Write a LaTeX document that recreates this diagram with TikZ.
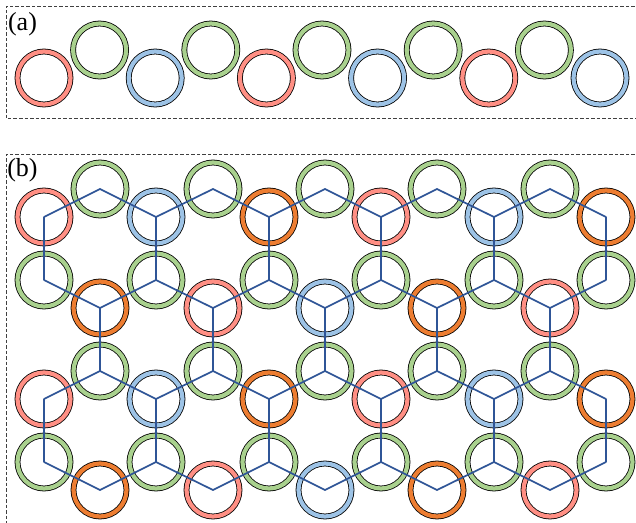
\documentclass[tikz,border=0pt]{standalone}
\usepackage{fontspec}
\setmainfont{Liberation Serif}
\definecolor{cr}{HTML}{FF8F84}
\definecolor{cg}{HTML}{A9D18E}
\definecolor{cb}{HTML}{9DC3E6}
\definecolor{co}{HTML}{ED7D31}
\definecolor{cl}{HTML}{2F5597}
\colorlet{cA0}{cr}\colorlet{cA1}{cg}\colorlet{cA2}{cb}\colorlet{cA3}{cg}\colorlet{cA4}{co}\colorlet{cA5}{cg}
\colorlet{cB0}{cg}\colorlet{cB1}{co}\colorlet{cB2}{cg}\colorlet{cB3}{cr}\colorlet{cB4}{cg}\colorlet{cB5}{cb}
\colorlet{cC0}{cr}\colorlet{cC1}{cg}\colorlet{cC2}{cb}\colorlet{cC3}{cg}
\begin{document}
\begin{tikzpicture}[x=1pt,y=-1pt,
  ring/.style={circle,draw=black,line width=0.8pt,double=#1,double distance=4.2pt,minimum size=53pt,inner sep=0pt,outer sep=0pt},
  frame/.style={draw=black!75,line width=0.8pt,dash pattern=on 3.5pt off 2pt},
  bond/.style={draw=cl,line width=1.7pt},
  panellabel/.style={inner sep=0pt,font=\fontsize{26}{26}\selectfont}]
\useasboundingbox (0,0) rectangle (636,522);
\fill[white] (0,0) rectangle (636,522);
% frames
\draw[frame] (640,6) -- (6,6) -- (6,118) -- (640,118);
\draw[frame] (640,154) -- (6,154) -- (6,526);
\node[panellabel] (la) at (22.5,24) {(a)};
\node[panellabel] (lb) at (22.5,170.5) {(b)};
% panel (a)
\foreach \k in {0,...,10}{
  \pgfmathtruncatemacro\m{mod(\k,4)}
  \pgfmathsetmacro\xx{44+55.6*\k}
  \pgfmathsetmacro\yy{ifthenelse(mod(\k,2)==0,78,50)}
  \node[ring=cC\m] (a\k) at (\xx,\yy) {};
}
% panel (b) vertices
\foreach \r in {0,...,3}{
  \foreach \k in {0,...,10}{
    \pgfmathtruncatemacro\m{mod(\k,6)}
    \pgfmathtruncatemacro\p{mod(\r,2)}
    \pgfmathtruncatemacro\xx{round(44+56.2*\k)}
    \pgfmathtruncatemacro\yy{ifthenelse(mod(\k+\r,2)==1,189+91*\r,217+91*\r)}
    \coordinate (v\r-\k) at (\xx,\yy);
    \ifnum\p=0
      \node[ring=cA\m] (n\r-\k) at (v\r-\k) {};
    \else
      \node[ring=cB\m] (n\r-\k) at (v\r-\k) {};
    \fi
  }
}
% zigzag bonds
\foreach \r in {0,...,3}{
  \foreach \k in {0,...,9}{
    \pgfmathtruncatemacro\kk{\k+1}
    \draw[bond,line cap=round] (v\r-\k) -- (v\r-\kk);
  }
}
% vertical bonds
\foreach \r in {0,...,2}{
  \pgfmathtruncatemacro\rr{\r+1}
  \foreach \k in {0,...,10}{
    \pgfmathtruncatemacro\q{mod(\k+\r,2)}
    \ifnum\q=0
      \draw[bond] (v\r-\k) -- (v\rr-\k);
    \fi
  }
}
\end{tikzpicture}
\end{document}
